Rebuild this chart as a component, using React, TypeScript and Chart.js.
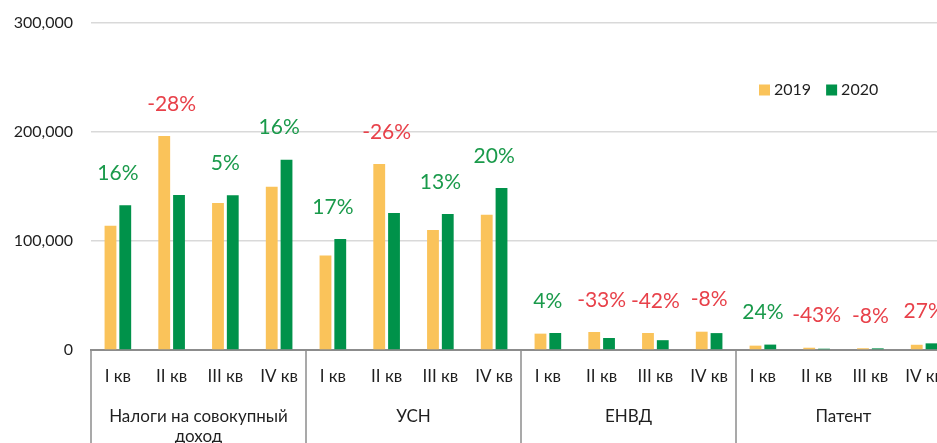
import React, { useEffect, useRef } from "react";
import { Chart, registerables } from "chart.js";

Chart.register(...registerables);

const quarters = [
  "I кв", "II кв", "III кв", "IV кв",
  "I кв", "II кв", "III кв", "IV кв",
  "I кв", "II кв", "III кв", "IV кв",
  "I кв", "II кв", "III кв", "IV кв",
];
const groups: (string | string[])[] = [["Налоги на совокупный", "доход"], "УСН", "ЕНВД", "Патент"];
const seriesNames = ["2019", "2020"];
const values2019 = [114000, 196300, 134900, 149800, 86800, 170600, 110100, 124100, 15000, 16500, 15600, 16800, 4000, 2100, 1600, 4800];
const values2020 = [132700, 142200, 141900, 174600, 101800, 125700, 124800, 148600, 15600, 11000, 9000, 15500, 4960, 1200, 1500, 6100];
const changes = [16, -28, 5, 16, 17, -26, 13, 20, 4, -33, -42, -8, 24, -43, -8, 27];
const changeTones = ["up", "down", "up", "up", "up", "down", "up", "up", "up", "down", "down", "down", "up", "down", "down", "down"];
const yMin = 0;
const yMax = 300000;
const yStep = 100000;

const COLOR_2019 = "#FAC35A";
const COLOR_2020 = "#00924A";
const TEXT_GREEN = "#1A9A4B";
const TEXT_RED = "#E8414A";
const FONT = "Lato, 'Noto Sans', sans-serif";
const TEXT = "#1f1f1f";

const changeLabels = {
  id: "changeLabels",
  afterDatasetsDraw(chart: any) {
    const ctx = chart.ctx;
    const m0 = chart.getDatasetMeta(0);
    const m1 = chart.getDatasetMeta(1);
    const x = chart.scales.x;
    ctx.save();
    ctx.font = `21px ${FONT}`;
    ctx.textAlign = "center";
    ctx.textBaseline = "middle";
    changes.forEach((c, i) => {
      const top = Math.min(m0.data[i].y, m1.data[i].y);
      ctx.fillStyle = changeTones[i] === "down" ? TEXT_RED : TEXT_GREEN;
      ctx.fillText(`${c}%`, x.getPixelForValue(i), top - 32);
    });
    ctx.restore();
  },
};

const groupSeparators = {
  id: "groupSeparators",
  afterDraw(chart: any) {
    const ctx = chart.ctx;
    const x = chart.scales.x;
    const half = (x.getPixelForValue(1) - x.getPixelForValue(0)) / 2;
    ctx.save();
    ctx.strokeStyle = "#8c8c8c";
    ctx.lineWidth = 1.5;
    for (let g = 0; g <= groups.length; g++) {
      const px = x.getPixelForValue(g * 4) - half;
      ctx.beginPath();
      ctx.moveTo(px, chart.chartArea.bottom);
      ctx.lineTo(px, chart.height);
      ctx.stroke();
    }
    ctx.restore();
  },
};

const innerLegend = {
  id: "innerLegend",
  afterDraw(chart: any) {
    const ctx = chart.ctx;
    const startX = 759;
    const cy = 90;
    const box = 11;
    ctx.save();
    ctx.font = `16px ${FONT}`;
    ctx.textBaseline = "middle";
    ctx.textAlign = "left";
    let px = startX;
    chart.data.datasets.forEach((ds: any) => {
      ctx.fillStyle = ds.backgroundColor;
      ctx.fillRect(px, cy - box / 2, box, box);
      ctx.fillStyle = TEXT;
      ctx.fillText(ds.label, px + box + 4, cy);
      px += box + 4 + ctx.measureText(ds.label).width + 15;
    });
    ctx.restore();
  },
};

export default function App() {
  const canvasRef = useRef<HTMLCanvasElement | null>(null);

  useEffect(() => {
    if (!canvasRef.current) return;
    const chart = new Chart(canvasRef.current, {
      type: "bar",
      data: {
        labels: quarters,
        datasets: [
          { label: seriesNames[0], data: values2019, backgroundColor: COLOR_2019 },
          { label: seriesNames[1], data: values2020, backgroundColor: COLOR_2020 },
        ],
      },
      options: {
        responsive: true,
        maintainAspectRatio: false,
        animation: false,
        events: [],
        layout: { padding: { top: 23, right: 9, left: 0, bottom: 0 } },
        datasets: {
          bar: { categoryPercentage: 0.55, barPercentage: 0.8 },
        },
        plugins: {
          legend: { display: false },
          tooltip: { enabled: false },
        },
        scales: {
          x: {
            type: "category",
            position: "bottom",
            weight: 0,
            offset: true,
            grid: { display: false, drawTicks: false, offset: true },
            border: { display: true, color: "#8c8c8c", width: 2 },
            ticks: {
              padding: 16,
              autoSkip: false,
              maxRotation: 0,
              minRotation: 0,
              color: TEXT,
              font: { family: FONT, size: 17 },
            },
            afterFit(scale: any) {
              scale.height = 37;
            },
          },
          x2: {
            type: "category",
            position: "bottom",
            weight: 1,
            labels: groups as any,
            offset: true,
            grid: { display: false, drawTicks: false },
            border: { display: false },
            ticks: {
              padding: 19,
              autoSkip: false,
              maxRotation: 0,
              minRotation: 0,
              color: TEXT,
              font: { family: FONT, size: 17, lineHeight: 1.2 },
            },
            afterFit(scale: any) {
              scale.height = 56;
            },
          },
          y: {
            min: yMin,
            max: yMax,
            ticks: {
              stepSize: yStep,
              padding: 18,
              color: TEXT,
              font: { family: FONT, size: 16 },
              callback: (v: any) => Number(v).toLocaleString("en-US"),
            },
            grid: { color: "#d9d9d9", lineWidth: 1.5, drawTicks: false },
            border: { display: false },
            afterFit(scale: any) {
              scale.width = 91;
              scale.paddingTop = 0;
              scale.paddingBottom = 0;
            },
          },
        },
      },
      plugins: [changeLabels, groupSeparators, innerLegend],
    });
    return () => chart.destroy();
  }, []);

  return (
    <div
      style={{
        position: "fixed",
        left: 0,
        top: 0,
        width: 937,
        height: 443,
        overflow: "hidden",
        background: "#fff",
      }}
    >
      <div style={{ position: "relative", width: 960, height: 443 }}>
        <canvas ref={canvasRef} />
      </div>
    </div>
  );
}
